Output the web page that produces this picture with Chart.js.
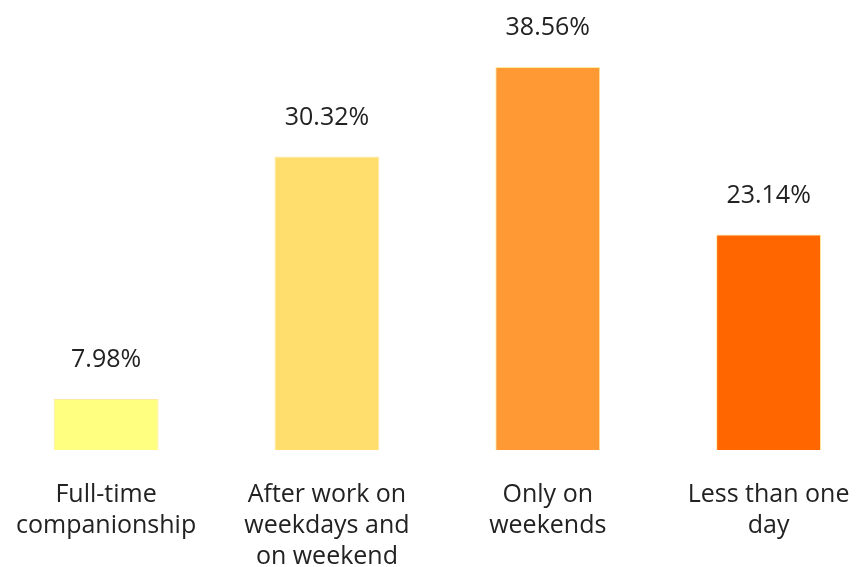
<!DOCTYPE html>
<html>
<head>
<meta charset="utf-8">
<script src="https://cdn.jsdelivr.net/npm/chart.js@4/dist/chart.umd.min.js"></script>
<style>
    html, body { margin: 0; padding: 0; background: #ffffff; overflow: hidden; }
    body { width: 856px; height: 567px; position: relative; }
    .chart-container { position: absolute; left: -5px; top: 0; width: 884px; height: 567px; }
</style>
</head>
<body>
<div class="chart-container"><canvas id="timeChart"></canvas></div>
<script>
// Chart data
const categories = [
    ['Full-time', 'companionship'],
    ['After work on', 'weekdays and', 'on weekend'],
    ['Only on', 'weekends'],
    ['Less than one', 'day']
];
const shares = [7.98, 30.32, 38.56, 23.14];
const barColors = ['#FFFF80', '#FFDE6E', '#FF9933', '#FF6600'];

const fontFamily = '"Open Sans", Lato, sans-serif';

// Percent labels above bars
const valueLabels = {
    id: 'valueLabels',
    afterDatasetsDraw(chart) {
        const ctx = chart.ctx;
        const meta = chart.getDatasetMeta(0);
        ctx.save();
        ctx.font = '25px ' + fontFamily;
        ctx.fillStyle = '#222222';
        ctx.textAlign = 'center';
        ctx.textBaseline = 'middle';
        meta.data.forEach((bar, i) => {
            ctx.fillText(shares[i].toFixed(2) + '%', bar.x, bar.y - 39);
        });
        ctx.restore();
    }
};

new Chart(document.getElementById('timeChart'), {
    type: 'bar',
    data: {
        labels: categories,
        datasets: [{
            data: shares,
            backgroundColor: barColors,
            borderColor: '#FFE8A0',
            borderWidth: 1,
            categoryPercentage: 1,
            barPercentage: 0.475
        }]
    },
    options: {
        responsive: true,
        maintainAspectRatio: false,
        animation: false,
        plugins: {
            legend: { display: false },
            tooltip: { enabled: false }
        },
        scales: {
            x: {
                grid: { display: false },
                border: { display: false },
                afterFit: (scale) => { scale.height = 117; },
                ticks: {
                    color: '#222222',
                    padding: 21,
                    autoSkip: false,
                    maxRotation: 0,
                    font: { family: fontFamily, size: 25, lineHeight: 1.24 }
                }
            },
            y: {
                display: false,
                min: 3.28,
                max: 44.73
            }
        }
    },
    plugins: [valueLabels]
});
</script>
</body>
</html>
